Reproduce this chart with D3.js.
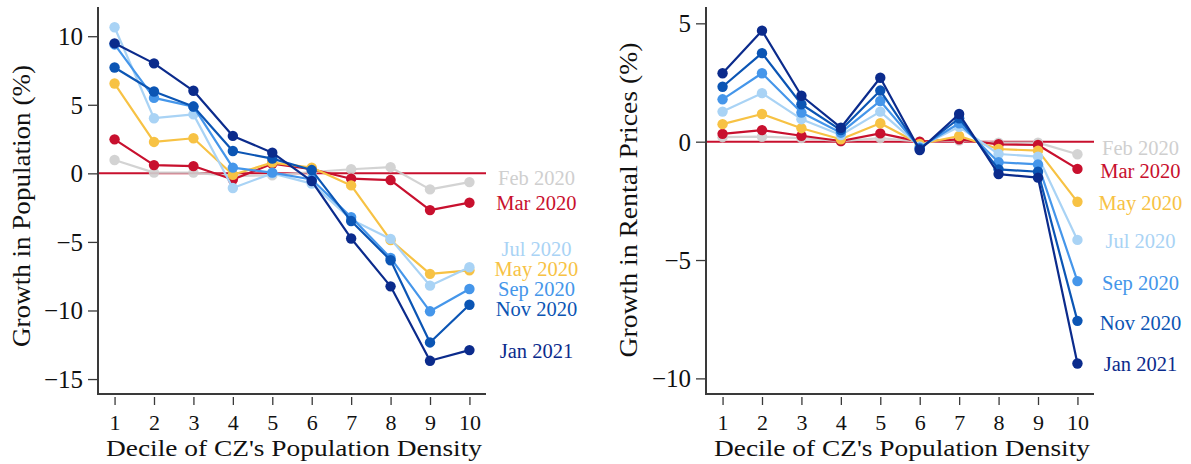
<!DOCTYPE html>
<html><head><meta charset="utf-8">
<script src="https://cdn.jsdelivr.net/npm/d3@7"></script>
<style>body{margin:0;background:#fff}svg{display:block}text{font-family:"Liberation Serif","DejaVu Serif",serif}</style>
</head><body><svg id="c" width="1191" height="464"></svg>
<script>
const deciles = [1,2,3,4,5,6,7,8,9,10];
const months = ["Feb 2020","Mar 2020","May 2020","Jul 2020","Sep 2020","Nov 2020","Jan 2021"];
const colors = ["#cfcfcf","#c8102e","#f7c244","#a9d3f5","#4596ea","#0b55b4","#0b2b8c"];

// Growth in population (%)
const popFeb = [0.97, 0.05, 0.05, -0.2, -0.15, 0.1, 0.3, 0.45, -1.17, -0.64];
const popMar = [2.48, 0.6, 0.53, -0.45, 0.7, 0.3, -0.39, -0.49, -2.68, -2.14];
const popMay = [6.55, 2.29, 2.56, -0.1, 0.78, 0.42, -0.88, -4.87, -7.33, -7.07];
const popJul = [10.65, 4.02, 4.3, -1.07, 0.0, -0.75, -3.36, -4.78, -8.19, -6.85];
const popSep = [9.4, 5.5, 4.87, 0.42, 0.05, -0.45, -3.19, -6.17, -10.06, -8.43];
const popNov = [7.72, 5.97, 4.87, 1.63, 1.07, 0.24, -3.48, -6.34, -12.33, -9.58];
const popJan = [9.48, 8.02, 6.02, 2.73, 1.51, -0.56, -4.75, -8.24, -13.67, -12.89];
const popLabelAt = [-0.37, -2.17, -7.0, -5.53, -8.46, -9.92, -12.96];
const popTicks = [10, 5, 0, -5, -10, -15];

// Growth in rental prices (%)
const rentFeb = [0.19, 0.21, 0.15, 0.02, 0.15, 0.0, 0.05, -0.04, -0.04, -0.53];
const rentMar = [0.33, 0.49, 0.25, 0.03, 0.35, 0.0, 0.1, -0.11, -0.14, -1.15];
const rentMay = [0.74, 1.17, 0.57, 0.1, 0.78, -0.1, 0.24, -0.31, -0.38, -2.54];
const rentJul = [1.27, 2.05, 0.95, 0.28, 1.27, -0.2, 0.63, -0.52, -0.63, -4.15];
const rentSep = [1.79, 2.89, 1.23, 0.38, 1.72, -0.25, 0.78, -0.87, -0.96, -5.89];
const rentNov = [2.32, 3.74, 1.58, 0.49, 2.16, -0.3, 0.99, -1.17, -1.27, -7.57];
const rentJan = [2.89, 4.69, 1.94, 0.59, 2.7, -0.35, 1.17, -1.37, -1.52, -9.37];
const rentLabelAt = [-0.27, -1.25, -2.59, -4.21, -5.97, -7.66, -9.42];
const rentTicks = [5, 0, -5, -10];

const xTitle = "Decile of CZ's Population Density";

const svg = d3.select("#c");

function panel(cfg) {
  const g = svg.append("g");
  const x = d3.scaleLinear().domain([0.58, 10.42]).range([cfg.left, cfg.left + 388]);
  const y = d3.scaleLinear().domain(cfg.ydom).range([394, 7]);
  const axisColor = "#3a3a3a";

  // zero reference line
  g.append("line").attr("x1", x.range()[0]).attr("x2", x.range()[1])
    .attr("y1", y(0)).attr("y2", y(0)).attr("stroke", "#c8102e").attr("stroke-width", 2);

  // y axis
  const ya = g.append("g").attr("transform", `translate(${cfg.left - 1},0)`)
    .call(d3.axisLeft(y).tickValues(cfg.ticks).tickSize(9).tickPadding(5).tickFormat(d3.format("d")));
  ya.select(".domain").remove();
  ya.selectAll(".tick line").attr("stroke", axisColor).attr("stroke-width", 1.3);
  ya.selectAll(".tick text").attr("font-size", 25).attr("fill", "#111")
    .attr("font-family", "Liberation Serif").attr("dy", "0.34em");
  g.append("line").attr("x1", cfg.left).attr("x2", cfg.left).attr("y1", 7).attr("y2", 395)
    .attr("stroke", axisColor).attr("stroke-width", 2);

  // x axis
  const xa = g.append("g").attr("transform", `translate(0,397)`)
    .call(d3.axisBottom(x).tickValues(deciles).tickSize(8).tickPadding(9).tickFormat(d3.format("d")));
  xa.select(".domain").remove();
  xa.selectAll(".tick line").attr("stroke", axisColor).attr("stroke-width", 1.3);
  xa.selectAll(".tick text").attr("font-size", 22).attr("fill", "#111")
    .attr("font-family", "Liberation Serif").attr("dy", "0.71em");
  g.append("line").attr("x1", cfg.left).attr("x2", x.range()[1]).attr("y1", 394).attr("y2", 394)
    .attr("stroke", axisColor).attr("stroke-width", 2);

  // titles
  g.append("text").attr("x", (cfg.left + x.range()[1]) / 2 + 2).attr("y", 455.5)
    .attr("text-anchor", "middle").attr("font-size", 23.5).attr("fill", "#111")
    .attr("textLength", 376).attr("lengthAdjust", "spacingAndGlyphs").text(xTitle);
  g.append("text").attr("transform", `translate(${cfg.ytx},${cfg.ytcy}) rotate(-90)`)
    .attr("text-anchor", "middle").attr("font-size", 26).attr("fill", "#111")
    .attr("textLength", cfg.ytlen).attr("lengthAdjust", "spacingAndGlyphs").text(cfg.ytitle);

  const line = d3.line().x((d, i) => x(deciles[i])).y(d => y(d));
  cfg.series.forEach((s, k) => {
    const sg = g.append("g").attr("opacity", k === 0 ? 0.9 : 1);
    sg.append("path").attr("d", line(s)).attr("fill", "none")
      .attr("stroke", colors[k]).attr("stroke-width", 2.2).attr("stroke-linejoin", "round");
    sg.selectAll("circle").data(s).join("circle")
      .attr("cx", (d, i) => x(deciles[i])).attr("cy", d => y(d)).attr("r", 5.2)
      .attr("fill", colors[k]);
    g.append("text").attr("x", x(10) + cfg.labelDx).attr("y", y(cfg.labelAt[k]))
      .attr("dy", "0.33em").attr("text-anchor", "middle").attr("font-size", 20.5)
      .attr("fill", colors[k]).text(months[k]);
  });
}

panel({
  left: 98, ydom: [-16.09, 12.13], ticks: popTicks,
  series: [popFeb, popMar, popMay, popJul, popSep, popNov, popJan],
  labelAt: popLabelAt, labelDx: 67,
  ytitle: "Growth in Population (%)", ytx: 30, ytcy: 206, ytlen: 282
});
panel({
  left: 706, ydom: [-10.66, 5.69], ticks: rentTicks,
  series: [rentFeb, rentMar, rentMay, rentJul, rentSep, rentNov, rentJan],
  labelAt: rentLabelAt, labelDx: 63,
  ytitle: "Growth in Rental Prices (%)", ytx: 637, ytcy: 200, ytlen: 315
});
</script></body></html>
